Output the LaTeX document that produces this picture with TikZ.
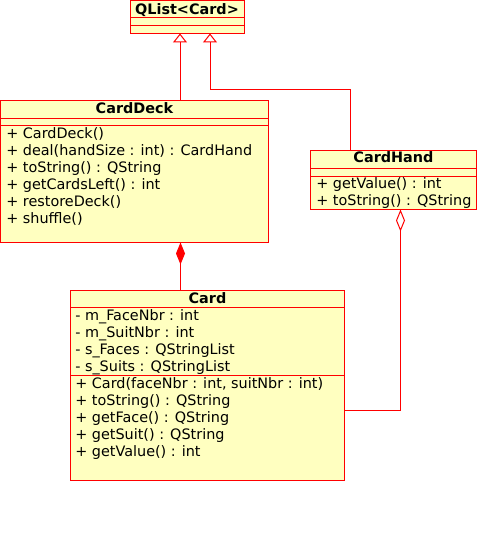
\documentclass[tikz,border=0pt]{standalone}
\usepackage{fontspec}
\setmainfont{DejaVu Sans}
\usetikzlibrary{arrows.meta,calc}
\definecolor{umlfill}{RGB}{255,255,192}
\definecolor{umlline}{RGB}{255,0,0}
\begin{document}
\begin{tikzpicture}[x=0.75pt,y=-0.75pt,
  classbox/.style={draw=umlline, fill=umlfill, line width=0.75pt, rectangle, inner sep=0pt, outer sep=0pt, anchor=north west},
  sep/.style={draw=umlline, line width=0.75pt},
  ctitle/.style={font=\fontsize{10.8pt}{13pt}\selectfont\bfseries, inner sep=0pt, anchor=base, text=black},
  mem/.style={font=\fontsize{10.8pt}{13pt}\selectfont, inner sep=0pt, anchor=base west, text=black},
  inh/.style={draw=umlline, line width=0.75pt, line join=miter, -{Triangle[open, length=6.75pt, width=10.5pt]}},
  comp/.style={draw=umlline, line width=0.75pt, {Diamond[length=16.5pt, width=6.75pt, fill=umlline]}-},
  agg/.style={draw=umlline, line width=0.75pt, {Diamond[open, length=16.5pt, width=6.75pt]}-}
]
\useasboundingbox (0,0) rectangle (500,560);

% QList<Card>
\node[classbox, minimum width=85.5pt, minimum height=24.75pt] (qlist) at (130,0.5) {};
\draw[sep] ($(qlist.north west)+(0,17)$) -- ($(qlist.north east)+(0,17)$);
\draw[sep] ($(qlist.north west)+(0,25)$) -- ($(qlist.north east)+(0,25)$);
\node[ctitle] (qlistT) at ($(qlist.north)+(0,13.8)$) {QList<Card>};

% CardDeck
\node[classbox, minimum width=201pt, minimum height=106.5pt] (deck) at (0.5,100.5) {};
\draw[sep] ($(deck.north west)+(0,17.5)$) -- ($(deck.north east)+(0,17.5)$);
\draw[sep] ($(deck.north west)+(0,25)$) -- ($(deck.north east)+(0,25)$);
\node[ctitle] (deckT) at ($(deck.north)+(0,13)$) {CardDeck};
\node[mem] (d1) at (6,138) {+ CardDeck()};
\node[mem] (d2) at (6,155) {+ deal(handSize : int) : CardHand};
\node[mem] (d3) at (6,172) {+ toString() : QString};
\node[mem] (d4) at (6,189) {+ getCardsLeft() : int};
\node[mem] (d5) at (6,206) {+ restoreDeck()};
\node[mem] (d6) at (6,223) {+ shuffle()};

% CardHand
\node[classbox, minimum width=124.5pt, minimum height=44.25pt] (hand) at (310.5,150.5) {};
\draw[sep] ($(hand.north west)+(0,18)$) -- ($(hand.north east)+(0,18)$);
\draw[sep] ($(hand.north west)+(0,25.5)$) -- ($(hand.north east)+(0,25.5)$);
\node[ctitle] (handT) at ($(hand.north)+(0,11.5)$) {CardHand};
\node[mem] (h1t) at (316,188) {+ getValue() : int};
\node[mem] (h2t) at (316,205) {+ toString() : QString};

% Card
\node[classbox, minimum width=205.5pt, minimum height=142.5pt] (card) at (70.5,290.5) {};
\draw[sep] ($(card.north west)+(0,17)$) -- ($(card.north east)+(0,17)$);
\draw[sep] ($(card.north west)+(0,85)$) -- ($(card.north east)+(0,85)$);
\node[ctitle] (cardT) at ($(card.north)+(0,12.5)$) {Card};
\node[mem] (c1) at (75,320) {- m\_FaceNbr : int};
\node[mem] (c2) at (75,337) {- m\_SuitNbr : int};
\node[mem] (c3) at (75,354) {- s\_Faces : QStringList};
\node[mem] (c4) at (75,371) {- s\_Suits : QStringList};
\node[mem] (c5) at (75,388) {+ Card(faceNbr : int, suitNbr : int)};
\node[mem] (c6) at (75,405) {+ toString() : QString};
\node[mem] (c7) at (75,422) {+ getFace() : QString};
\node[mem] (c8) at (75,439) {+ getSuit() : QString};
\node[mem] (c9) at (75,456) {+ getValue() : int};

% connector anchor points
\path (qlist.south west) ++(50,0) coordinate (q1);
\path (qlist.south west) ++(80,0) coordinate (q2);
\path (hand.north west) ++(40,0) coordinate (hA);
\path (hand.south west) ++(90,0) coordinate (hB);
\path (deck.south west) ++(180,0) coordinate (dB);
\path (card.north east) ++(0,120) coordinate (kE);

% inheritance
\draw[inh] (q1 |- deck.north) -- (q1);
\draw[inh] (hA) -- ++(0,-61) -| (q2);
% composition
\draw[comp] (dB) -- (dB |- card.north);
% aggregation
\draw[agg] (hB) |- (kE);
\end{tikzpicture}
\end{document}
